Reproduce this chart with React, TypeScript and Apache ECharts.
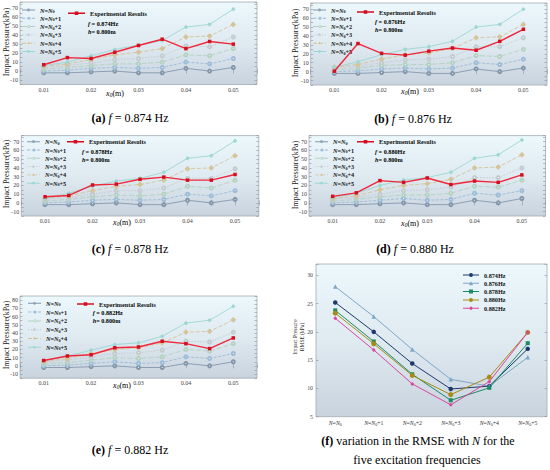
import React, { useEffect, useRef } from "react";
import * as echarts from "echarts";

const FONT = "'Liberation Serif', 'DejaVu Serif', 'Times New Roman', serif";

// ---------------- data ----------------
const xPositions = [0.01, 0.015, 0.02, 0.025, 0.03, 0.035, 0.04, 0.045, 0.05];
const xTickLabels = ["0.01", "0.02", "0.03", "0.04", "0.05"];
const simNames = ["N=N0", "N=N0+1", "N=N0+2", "N=N0+3", "N=N0+4", "N=N0+5"];
const expName = "Experimental Results";

const sim874 = [
  [-2, -2, -1, 0, -2, -2, 3, 0, 4],
  [0, 1, 3, 4, 3, 4, 10, 8, 14],
  [2, 4, 6, 8, 8, 10, 18, 17, 25],
  [4, 6, 9, 13, 14, 17, 28, 27, 38],
  [5, 8, 13, 18, 21, 25, 38, 39, 52],
  [6, 10, 17, 24, 29, 34, 49, 52, 69],
];
const exp874 = [7, 15, 14, 21, 28.5, 35.5, 25, 33, 30];

const sim876 = [
  [-2, -2, -1, 0, -2, -2, 3, 0, 4],
  [0, 1, 3, 4, 3, 4, 10, 8, 14],
  [2, 4, 7, 8, 8, 10, 18, 17, 25],
  [4, 6, 10, 13, 14, 17, 28, 28, 38],
  [5, 8, 14, 19, 21, 26, 38, 39, 53],
  [5, 11, 19, 25, 28, 34, 50, 53, 70],
];
const exp876 = [0.5, 31.5, 20.5, 18.5, 23, 26.5, 24, 34, 47.5];

const sim878 = [
  [-2, -2, -1, 0, -2, -2, 3, 0, 4],
  [0, 1, 3, 4, 3, 4, 10, 8, 14],
  [2, 4, 7, 9, 8, 10, 19, 17, 26],
  [4, 6, 10, 14, 14, 17, 28, 28, 39],
  [5, 8, 14, 19, 21, 26, 39, 40, 54],
  [5, 11, 19, 25, 28, 35, 51, 54, 71],
];
const exp878 = [7, 8.5, 20.5, 21.5, 27, 29.5, 26, 26, 32.5];

const sim880 = [
  [-2, -2, -1, 0, -2, -2, 3, 0, 5],
  [0, 1, 3, 5, 3, 4, 11, 9, 14],
  [2, 4, 7, 9, 9, 11, 19, 18, 26],
  [4, 6, 10, 14, 15, 18, 29, 29, 40],
  [5, 8, 15, 20, 22, 27, 40, 41, 55],
  [6, 11, 20, 26, 29, 35, 51, 55, 72],
];
const exp880 = [7.5, 11.5, 25.5, 23.5, 28.5, 21, 25, 23.5, 32];

const sim882 = [
  [-2, -2, -1, 0, -2, -2, 3, 0, 5],
  [0, 1, 3, 5, 3, 4, 11, 9, 15],
  [2, 4, 7, 10, 9, 11, 20, 18, 27],
  [4, 7, 11, 15, 16, 19, 30, 29, 41],
  [5, 9, 15, 20, 22, 28, 41, 42, 56],
  [6, 12, 19, 26, 28, 36, 52, 55.5, 72.5],
];
const exp882 = [6.5, 12, 13.5, 22, 23, 30, 27, 21, 34];

const rmseCategories = ["N=N0", "N=N0+1", "N=N0+2", "N=N0+3", "N=N0+4", "N=N0+5"];
const rmseNames = ["0.874Hz", "0.876Hz", "0.878Hz", "0.880Hz", "0.882Hz"];
const rmse874 = [25.2, 20, 14.4, 9.9, 10.4, 17];
const rmse876 = [28, 22.7, 16.9, 11.6, 10.4, 15.5];
const rmse878 = [23.8, 18.3, 12.5, 7.9, 10.1, 18];
const rmse880 = [23.3, 17.9, 12.3, 8.9, 12, 19.9];
const rmse882 = [22.4, 16.8, 10.8, 7.1, 11.2, 19.9];

// ---------------- styles ----------------
const simStyles: any[] = [
  { color: "#8497aa", type: "solid", dash: null, symbol: "emptyCircle", shape: "ring" },
  { color: "#9dbcd8", type: [3, 1.5], dash: [30, 15], symbol: "emptyCircle", shape: "ring" },
  { color: "#b3d2c2", type: [5, 2], dash: [50, 20], symbol: "emptyCircle", shape: "ring" },
  { color: "#c2cbce", type: [1.5, 1.5], dash: [15, 15], symbol: "emptyCircle", shape: "ring" },
  { color: "#d5c399", type: [4, 2], dash: [40, 20], symbol: "emptyDiamond", shape: "diamond" },
  { color: "#9dd7d2", type: "solid", dash: null, symbol: "circle", shape: "circle" },
];
const rmseStyles = [
  { color: "#1c3a6c", symbol: "circle", size: 4.5, shape: "circle" },
  { color: "#7ea6c8", symbol: "triangle", size: 4.5, shape: "triangle" },
  { color: "#1e8a63", symbol: "rect", size: 4, shape: "rect" },
  { color: "#a68c17", symbol: "circle", size: 5, shape: "circle" },
  { color: "#d8479a", symbol: "diamond", size: 4, shape: "diamond" },
];

const panels = [
  {
    sim: sim874, exp: exp874, freq: "0.874", letter: "(a)",
    grid: { left: 20, top: 2, width: 237, height: 82.5 }, yMax: 77,
    yTitle: [6, 42], xTitle: [115, 93], simLeg: [22, 6.5], gap: 1.3,
    expLeg: [68, 9.8], fh: [88, 23.3, 31.7], caption: [130, 118],
  },
  {
    sim: sim876, exp: exp876, freq: "0.876", letter: "(b)",
    grid: { left: 310.7, top: 3, width: 236.3, height: 82 }, yMax: 77,
    yTitle: [295, 43], xTitle: [410, 91], simLeg: [313, 6.5], gap: 1.3,
    expLeg: [357, 8.5], fh: [375, 21, 29], caption: [413, 119],
  },
  {
    sim: sim878, exp: exp878, freq: "0.878", letter: "(c)",
    grid: { left: 21.3, top: 135.6, width: 237.5, height: 80.4 }, yMax: 77,
    yTitle: [6, 174], xTitle: [122, 222], simLeg: [27, 138.2], gap: 1.3,
    expLeg: [67, 138.2], fh: [82, 151.7, 159.5], caption: [130, 249],
  },
  {
    sim: sim880, exp: exp880, freq: "0.880", letter: "(d)",
    grid: { left: 309, top: 135.6, width: 236.5, height: 80.4 }, yMax: 77,
    yTitle: [295, 175], xTitle: [410, 223], simLeg: [315, 138.2], gap: 1.3,
    expLeg: [357, 138.2], fh: [375, 151.7, 159.5], caption: [415, 249],
  },
  {
    sim: sim882, exp: exp882, freq: "0.882", letter: "(e)",
    grid: { left: 20, top: 296, width: 237, height: 82.2 }, yMax: 85,
    yTitle: [6, 335], xTitle: [122, 385], simLeg: [28, 299.8], gap: 1.8,
    expLeg: [77, 300.5], fh: [92.7, 312.3, 320.3], caption: [130, 450],
  },
];

const legendRich = {
  t: { fontFamily: FONT, fontSize: 6.2, fontWeight: "bold", color: "#111", lineHeight: 7 },
  i: { fontFamily: FONT, fontSize: 6.2, fontWeight: "bold", fontStyle: "italic", color: "#111", lineHeight: 7 },
  s: { fontFamily: FONT, fontSize: 4.2, fontWeight: "bold", color: "#111", lineHeight: 4, verticalAlign: "bottom" },
};
const catRich = {
  t: { fontFamily: FONT, fontSize: 5.8, color: "#333", lineHeight: 7 },
  i: { fontFamily: FONT, fontSize: 5.8, fontStyle: "italic", color: "#333", lineHeight: 7 },
  s: { fontFamily: FONT, fontSize: 4, color: "#333", lineHeight: 4, verticalAlign: "bottom" },
};
const axisRich = {
  t: { fontFamily: FONT, fontSize: 8, color: "#222", lineHeight: 10 },
  i: { fontFamily: FONT, fontSize: 8, fontStyle: "italic", color: "#222", lineHeight: 10 },
  s: { fontFamily: FONT, fontSize: 5.5, fontStyle: "italic", color: "#222", lineHeight: 6, verticalAlign: "bottom" },
};
const fhRich = {
  t: { fontFamily: FONT, fontSize: 6.2, fontWeight: "bold", color: "#111" },
  i: { fontFamily: FONT, fontSize: 6.2, fontWeight: "bold", fontStyle: "italic", color: "#111" },
};
const capRich = {
  t: { fontFamily: FONT, fontSize: 12, color: "#111" },
  b: { fontFamily: FONT, fontSize: 12, fontWeight: "bold", color: "#111" },
  i: { fontFamily: FONT, fontSize: 12, fontStyle: "italic", color: "#111" },
};

// ---------- legend icon paths (line + marker) ----------
function rectP(x: number, y: number, w: number, h: number) {
  return `M${x},${y}L${x + w},${y}L${x + w},${y + h}L${x},${y + h}Z`;
}
function circleP(cx: number, cy: number, r: number, cw: boolean) {
  const s = cw ? 1 : 0;
  return `M${cx - r},${cy}a${r},${r} 0 1,${s} ${2 * r},0a${r},${r} 0 1,${s} ${-2 * r},0Z`;
}
function iconPath(W: number, r: number, t: number, shape: string, dash: number[] | null) {
  const cy = r;
  const cx = W / 2;
  let p = "";
  if (!dash) p += rectP(0, cy - t / 2, W, t);
  else {
    for (let x = 0; x < W; x += dash[0] + dash[1]) p += rectP(x, cy - t / 2, Math.min(dash[0], W - x), t);
  }
  if (shape === "circle") p += circleP(cx, cy, r, true);
  else if (shape === "ring") p += circleP(cx, cy, r, true) + circleP(cx, cy, r * 0.55, false);
  else if (shape === "rect") p += rectP(cx - r, cy - r, 2 * r, 2 * r);
  else if (shape === "triangle") p += `M${cx},${cy - r}L${cx + r},${cy + r}L${cx - r},${cy + r}Z`;
  else if (shape === "diamond") p += `M${cx},${cy - r}L${cx + r},${cy}L${cx},${cy + r}L${cx - r},${cy}Z`;
  return "path://" + p;
}

function fmtN(name: string) {
  const rest = name.slice(4);
  return "{i|N}{t|=}{i|N}{s|0}" + (rest ? "{t|" + rest + "}" : "");
}
function fmtX(v: number) {
  const k = Math.round(v * 1000);
  if (k % 10 !== 0) return "";
  const s = (k / 1000).toFixed(2);
  return xTickLabels.includes(s) ? s : "";
}
function bg() {
  return new echarts.graphic.LinearGradient(0, 0, 0, 1, [
    { offset: 0, color: "#ecf8fc" },
    { offset: 0.5, color: "#dfeaf1" },
    { offset: 1, color: "#c8d3de" },
  ]);
}

function buildOption() {
  const grid: any[] = [];
  const xAxis: any[] = [];
  const yAxis: any[] = [];
  const series: any[] = [];
  const legend: any[] = [];
  const graphic: any[] = [];
  const tick = { show: true, inside: true, length: 2.5, lineStyle: { color: "#8a949c", width: 0.6 } };

  const simLegendData = simNames.map((n, j) => ({
    name: n,
    icon: iconPath(130, 14, 9, simStyles[j].shape, simStyles[j].dash),
  }));
  const expLegendData = [{ name: expName, icon: iconPath(170, 18, 14, "rect", null) }];

  panels.forEach((p, i) => {
    grid.push({ ...p.grid, show: true, backgroundColor: bg(), borderColor: "#a3abb3", borderWidth: 0.8 });
    const xa = {
      type: "value", gridIndex: i, min: 0.005, max: 0.055, interval: 0.005,
      axisLine: { show: false }, splitLine: { show: false }, axisTick: tick,
    };
    xAxis.push({
      ...xa, position: "bottom",
      axisLabel: { fontSize: 6, fontFamily: FONT, color: "#444", margin: 2, formatter: fmtX },
    });
    xAxis.push({ ...xa, position: "top", axisLabel: { show: false } });
    const ya = {
      type: "value", gridIndex: i, min: -15, max: p.yMax, interval: 5,
      axisLine: { show: false }, splitLine: { show: false }, axisTick: tick,
    };
    yAxis.push({
      ...ya, position: "left",
      axisLabel: {
        fontSize: 6, fontFamily: FONT, color: "#444", margin: 2,
        formatter: (v: number) => (v % 10 === 0 ? String(v) : ""),
      },
    });
    yAxis.push({ ...ya, position: "right", axisLabel: { show: false } });

    p.sim.forEach((vals, j) => {
      const st = simStyles[j];
      series.push({
        type: "line", name: simNames[j], xAxisIndex: 2 * i, yAxisIndex: 2 * i,
        data: xPositions.map((x, k) => [x, vals[k]]),
        symbol: st.symbol, symbolSize: 3, z: 2 + j * 0.1,
        lineStyle: { color: st.color, width: 0.9, type: st.type },
        itemStyle: { color: st.color, borderColor: st.color, borderWidth: 0.7 },
      });
    });
    series.push({
      type: "line", name: expName, xAxisIndex: 2 * i, yAxisIndex: 2 * i,
      data: xPositions.map((x, k) => [x, p.exp[k]]),
      symbol: "rect", symbolSize: 3.5, z: 5,
      lineStyle: { color: "#f0283c", width: 1.4 },
      itemStyle: { color: "#d40f1f" },
    });

    legend.push({
      data: simLegendData, orient: "vertical", left: p.simLeg[0], top: p.simLeg[1],
      itemWidth: 13, itemHeight: 7, itemGap: p.gap, padding: 0, selectedMode: false,
      formatter: fmtN, itemStyle: { borderWidth: 0 },
      textStyle: { fontFamily: FONT, fontSize: 6.2, fontWeight: "bold", color: "#111", lineHeight: 7, rich: legendRich },
    });
    legend.push({
      data: expLegendData, left: p.expLeg[0], top: p.expLeg[1],
      itemWidth: 17, itemHeight: 7, padding: 0, selectedMode: false, itemStyle: { borderWidth: 0 },
      textStyle: { fontFamily: FONT, fontSize: 6.2, fontWeight: "bold", color: "#111", lineHeight: 7 },
    });

    graphic.push({
      type: "text", x: p.yTitle[0], y: p.yTitle[1], rotation: Math.PI / 2, z: 100,
      style: { text: "Impact Pressure(kPa)", fontFamily: FONT, fontSize: 8, fill: "#222", align: "center", verticalAlign: "middle" },
    });
    graphic.push({
      type: "text", x: p.xTitle[0], y: p.xTitle[1], z: 100,
      style: { text: "{i|x}{s|0}{t|(m)}", rich: axisRich, align: "center", verticalAlign: "middle" },
    });
    graphic.push({
      type: "text", x: p.fh[0], y: p.fh[1], z: 100,
      style: { text: "{i|f}{t| = " + p.freq + "Hz}", rich: fhRich, align: "left", verticalAlign: "middle" },
    });
    graphic.push({
      type: "text", x: p.fh[0], y: p.fh[2], z: 100,
      style: { text: "{i|h}{t|= 0.800m}", rich: fhRich, align: "left", verticalAlign: "middle" },
    });
    graphic.push({
      type: "text", x: p.caption[0], y: p.caption[1], z: 100,
      style: { text: "{b|" + p.letter + "}{t| }{i|f}{t| = " + p.freq + " Hz}", rich: capRich, align: "center", verticalAlign: "middle" },
    });
  });

  // ---------- panel (f) ----------
  const fi = panels.length;
  grid.push({ left: 316, top: 264, width: 231, height: 152.7, show: true, backgroundColor: bg(), borderColor: "#a3abb3", borderWidth: 0.8 });
  xAxis.push({
    type: "category", gridIndex: fi, data: rmseCategories, boundaryGap: true, position: "bottom",
    axisLine: { show: false }, axisTick: { show: false }, splitLine: { show: false },
    axisLabel: { interval: 0, margin: 3, formatter: fmtN, rich: catRich, fontSize: 5.8, fontFamily: FONT },
  });
  const yf = {
    type: "value", gridIndex: fi, min: 5, max: 32, interval: 5,
    axisLine: { show: false }, splitLine: { show: false }, axisTick: tick,
  };
  yAxis.push({
    ...yf, position: "left",
    axisLabel: {
      fontSize: 5.8, fontFamily: FONT, color: "#444", margin: 3,
      formatter: (v: number) => (v % 5 === 0 && v <= 30 ? String(v) : ""),
    },
  });
  yAxis.push({ ...yf, position: "right", axisLabel: { show: false } });
  const rmseValues = [rmse874, rmse876, rmse878, rmse880, rmse882];
  rmseValues.forEach((vals, j) => {
    const st = rmseStyles[j];
    series.push({
      type: "line", name: rmseNames[j], xAxisIndex: 2 * fi, yAxisIndex: 2 * fi,
      data: vals, symbol: st.symbol, symbolSize: st.size, z: 3,
      lineStyle: { color: st.color, width: 1 },
      itemStyle: { color: st.color },
    });
  });
  legend.push({
    data: rmseNames.map((n, j) => ({ name: n, icon: iconPath(160, 20, 10, rmseStyles[j].shape, null) })),
    orient: "vertical", left: 463, top: 271.5,
    itemWidth: 16, itemHeight: 7, itemGap: 1.3, padding: 0, selectedMode: false,
    itemStyle: { borderWidth: 0 },
    textStyle: { fontFamily: FONT, fontSize: 6.2, fontWeight: "bold", color: "#111", lineHeight: 7 },
  });
  graphic.push({
    type: "text", x: 298, y: 337, rotation: Math.PI / 2, z: 100,
    style: { text: "Impact Pressure\nRMSE (kPa)", fontFamily: FONT, fontSize: 5.5, lineHeight: 7, fill: "#333", align: "center", verticalAlign: "middle" },
  });
  graphic.push({
    type: "text", x: 418, y: 441, z: 100,
    style: { text: "{b|(f)}{t| variation in the RMSE with }{i|N}{t| for the}", rich: capRich, align: "center", verticalAlign: "middle" },
  });
  graphic.push({
    type: "text", x: 417, y: 460, z: 100,
    style: { text: "{t|five excitation frequencies}", rich: capRich, align: "center", verticalAlign: "middle" },
  });

  return {
    animation: false,
    backgroundColor: "#ffffff",
    grid, xAxis, yAxis, series, legend, graphic,
  };
}

export default function App() {
  const ref = useRef<HTMLDivElement>(null);
  useEffect(() => {
    if (!ref.current) return;
    const chart = echarts.init(ref.current, null, { renderer: "svg" });
    chart.setOption(buildOption() as any);
    return () => chart.dispose();
  }, []);
  return (
    <div
      ref={ref}
      style={{ position: "fixed", left: 0, top: 0, width: 550, height: 470, background: "#fff" }}
    />
  );
}
